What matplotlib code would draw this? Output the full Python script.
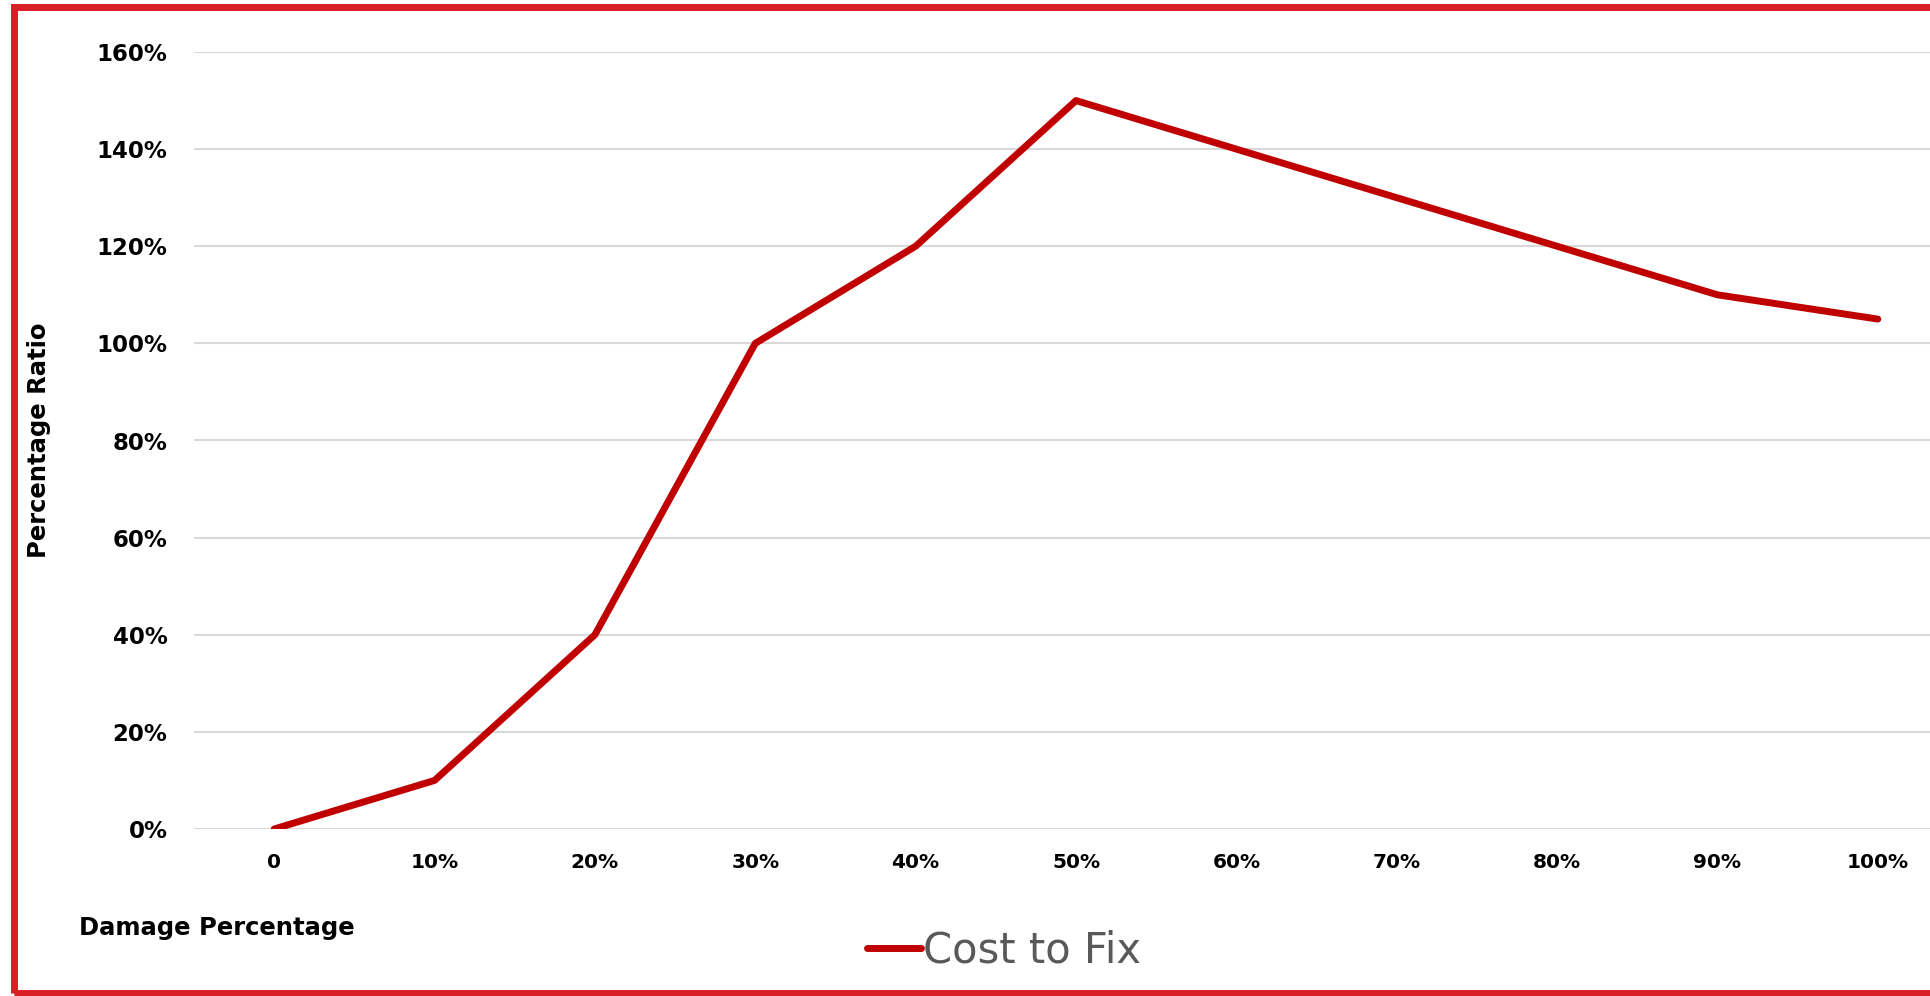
import matplotlib
matplotlib.use("Agg")
import matplotlib.pyplot as plt
from matplotlib.patches import Rectangle
from matplotlib.ticker import FuncFormatter

# data
damage_labels = ["0", "10%", "20%", "30%", "40%", "50%", "60%", "70%", "80%", "90%", "100%"]
cost_to_fix = [0.0, 0.10, 0.40, 1.00, 1.20, 1.50, 1.40, 1.30, 1.20, 1.10, 1.05]
series_name = "Cost to Fix"

plt.rcParams['font.family'] = ['DejaVu Sans']

fig = plt.figure(figsize=(19.31, 9.96), dpi=100)
# plot area runs past the right edge of the picture, as in the original
ax = fig.add_axes([194/1931, 1 - 829/996, (1958 - 194)/1931, (829 - 52)/996])

x = list(range(len(damage_labels)))
ax.plot(x, cost_to_fix, color="#C00000", lw=5, solid_capstyle="round",
        solid_joinstyle="round", label=series_name, zorder=3)

ax.set_xlim(-0.5, len(damage_labels) - 0.5)
ax.set_ylim(0, 1.6)
ax.set_yticks([i * 0.2 for i in range(9)])
ax.yaxis.set_major_formatter(FuncFormatter(lambda v, p: f"{v*100:.0f}%"))
ax.set_xticks(x)
ax.set_xticklabels(damage_labels)

ax.grid(axis="y", color="#d9d9d9", lw=1.5)
ax.set_axisbelow(True)
for s in ax.spines.values():
    s.set_visible(False)
ax.tick_params(axis="both", length=0)
ax.tick_params(axis="y", pad=19, labelsize=16.5)
ax.tick_params(axis="x", pad=17, labelsize=14.5)
for t in ax.get_xticklabels() + ax.get_yticklabels():
    t.set_fontweight("bold")

ax.set_ylabel("Percentage Ratio", fontsize=17.5, fontweight="bold")
ax.yaxis.set_label_coords(-0.081, 0.5)
ax.set_xlabel("Damage Percentage", fontsize=17.5, fontweight="bold", ha="left")
ax.xaxis.set_label_coords(-0.065, -0.112)

leg = fig.legend(loc="center", bbox_to_anchor=(0.52, 0.046), frameon=False,
                 fontsize=30, handlelength=1.3, handletextpad=0.05)
for t in leg.get_texts():
    t.set_color("#595959")

# red frame (open on the right side)
fig.patches.append(Rectangle((0.007, 0.0035), 1.05, 0.9890, transform=fig.transFigure,
                             fill=False, edgecolor="#DA1F26", lw=5))

fig.savefig("out.png", dpi=100)
